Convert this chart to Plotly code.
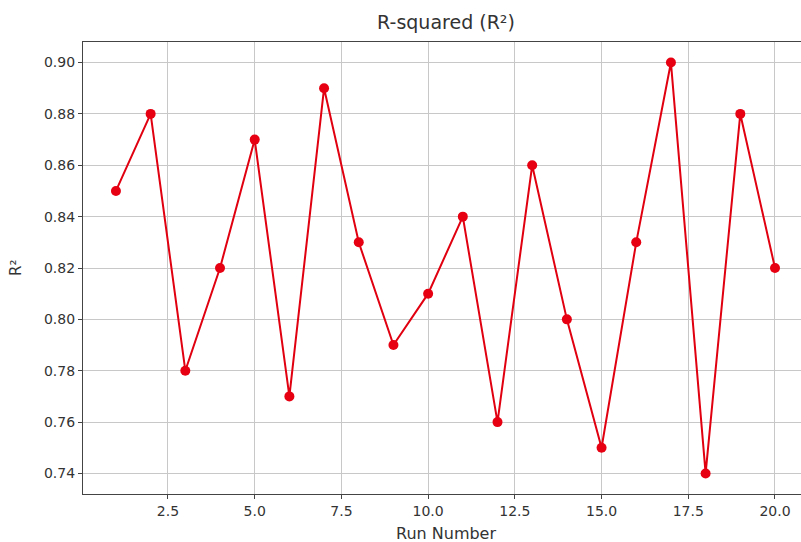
import plotly.graph_objects as go

runs = list(range(1, 21))
r2 = [0.85, 0.88, 0.78, 0.82, 0.87, 0.77, 0.89, 0.83, 0.79, 0.81,
      0.84, 0.76, 0.86, 0.80, 0.75, 0.83, 0.90, 0.74, 0.88, 0.82]
x_ticks = [2.5, 5.0, 7.5, 10.0, 12.5, 15.0, 17.5, 20.0]
x_tick_labels = ["2.5", "5.0", "7.5", "10.0", "12.5", "15.0", "17.5", "20.0"]
y_ticks = [0.74, 0.76, 0.78, 0.80, 0.82, 0.84, 0.86, 0.88, 0.90]
y_tick_labels = ["0.74", "0.76", "0.78", "0.80", "0.82", "0.84", "0.86", "0.88", "0.90"]

font = "DejaVu Sans"
txt = "#333333"
W, H = 801, 542
L, T, R, B = 83, 42, 0, H - 494
PW, PH = W - L - R, H - T - B

fig = go.Figure()
fig.add_trace(go.Scatter(
    x=runs, y=r2, mode="lines+markers",
    line=dict(color="#e00010", width=2),
    marker=dict(color="#e60012", size=10),
    showlegend=False,
))

fig.update_layout(
    width=W, height=H,
    margin=dict(l=L, r=R, t=T, b=B, autoexpand=False),
    plot_bgcolor="white", paper_bgcolor="white",
    font=dict(family=font, size=14, color=txt),
    title=dict(text="R-squared (R²)", x=446 / W, xanchor="center",
               y=1 - 22 / H, yanchor="middle",
               font=dict(family=font, size=19, color=txt)),
)
fig.update_xaxes(
    range=[0.05, 20.75], automargin=False,
    tickmode="array", tickvals=x_ticks, ticktext=x_tick_labels,
    showgrid=True, gridcolor="#c8c8c8", gridwidth=1,
    showline=True, linecolor="#444444", linewidth=1.2, mirror=True,
    ticks="outside", ticklen=4, tickcolor="#444444",
    zeroline=False,
    tickfont=dict(size=14),
)
fig.update_yaxes(
    range=[0.732, 0.908], automargin=False,
    tickmode="array", tickvals=y_ticks, ticktext=y_tick_labels,
    showgrid=True, gridcolor="#c8c8c8", gridwidth=1,
    showline=True, linecolor="#444444", linewidth=1.2, mirror=False,
    ticks="outside", ticklen=4, tickcolor="#444444",
    zeroline=False,
    tickfont=dict(size=14),
)
fig.add_annotation(text="Run Number", xref="paper", yref="paper",
                   x=(446 - L) / PW, y=-(533 - 494) / PH,
                   xanchor="center", yanchor="middle", showarrow=False,
                   font=dict(size=16, color=txt))
fig.add_annotation(text="R²", xref="paper", yref="paper",
                   x=-(L - 16) / PW, y=1 - (268 - T) / PH,
                   xanchor="center", yanchor="middle", textangle=-90, showarrow=False,
                   font=dict(size=15, color=txt))

fig.write_html(
    "out.html",
    config={"displayModeBar": False},
    post_script="document.body.style.margin='0';document.documentElement.style.overflow='hidden';",
)
